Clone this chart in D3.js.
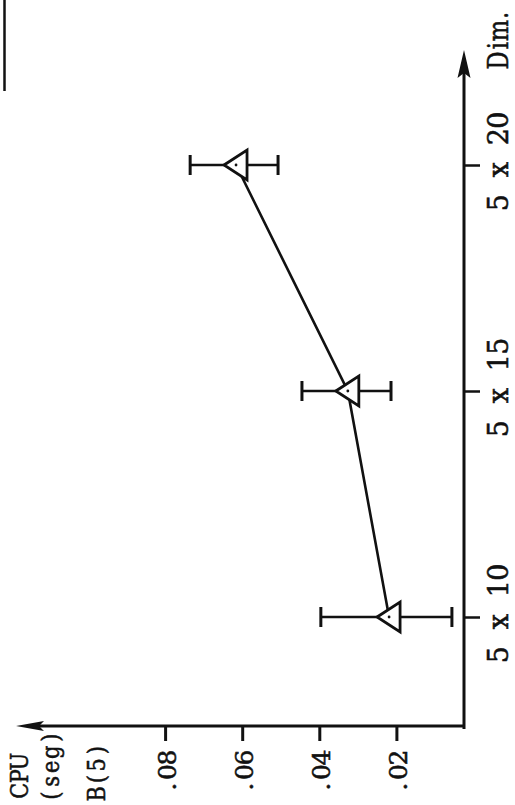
<!DOCTYPE html>
<html>
<head>
<meta charset="utf-8">
<script src="https://cdn.jsdelivr.net/npm/d3@7"></script>
<style>
  html, body { margin: 0; padding: 0; background: #fff; }
  svg { display: block; }
  text { font-family: "DejaVu Serif", "Liberation Serif", serif; fill: #111; stroke: #111; stroke-width: 0.55px; }
</style>
</head>
<body>
<svg id="chart" width="515" height="805"></svg>
<script>
// Problem sizes (5 x n) along the dimension axis
const dims = [10, 15, 20];
const dimLabels = ["5 x 10", "5 x 15", "5 x 20"];
// Mean CPU time for each size, with the low / high end of its spread
const cpuMean = [0.0219, 0.0326, 0.0616];
const cpuLow = [0.0056, 0.0214, 0.0507];
const cpuHigh = [0.0396, 0.0445, 0.0735];
// CPU axis ticks
const cpuTicks = [0.02, 0.04, 0.06, 0.08];
const cpuTickLabels = [".02", ".04", ".06", ".08"];
// Axis titles
const cpuTitle = ["CPU", "(seg)", "B(5)"];
const dimTitle = "Dim.";

const points = dims.map((d, i) => ({ dim: d, mean: cpuMean[i], low: cpuLow[i], high: cpuHigh[i] }));

const svg = d3.select("#chart");
const ink = "#111";

// Lay a string out on a fixed character grid, typewriter style.
// anchor: where local x = 0 sits relative to the string (start / middle / end).
function typeset(textSel, str, size, cell, anchor) {
  const n = str.length;
  const first = anchor === "middle" ? -n * cell / 2 : anchor === "end" ? -n * cell : 0;
  textSel.text(null)
    .attr("font-size", size)
    .attr("text-anchor", "middle")
    .attr("dy", null).attr("x", null).attr("y", null);
  str.split("").forEach((ch, i) => {
    if (ch === " ") return;
    textSel.append("tspan")
      .attr("x", first + (i + 0.5) * cell)
      .attr("y", 0.36 * size)
      .text(ch);
  });
}

// Narrowed glyphs for the titles (typewriter faces are condensed)
const squeeze = 0.84;

// The plot is set sideways: CPU time grows to the left, dimension grows upward.
const originX = 464, originY = 726;
const x = d3.scaleLinear().domain([0, 0.1]).range([473.5, 88]);
const y = d3.scaleLinear().domain([10, 20]).range([617, 165]);

// Frame line left over at the top-left edge
svg.append("line")
  .attr("x1", 4.5).attr("x2", 4.5).attr("y1", 0).attr("y2", 91)
  .attr("stroke", ink).attr("stroke-width", 2.5);

// Axis lines with arrowheads
svg.append("line")
  .attr("x1", originX).attr("x2", originX).attr("y1", originY + 3).attr("y2", 70)
  .attr("stroke", ink).attr("stroke-width", 3);
svg.append("path")
  .attr("d", `M${originX},50 L${originX + 6.5},78 L${originX},73 L${originX - 6.5},78 Z`)
  .attr("fill", ink);

svg.append("line")
  .attr("x1", originX + 1).attr("x2", 36).attr("y1", originY).attr("y2", originY)
  .attr("stroke", ink).attr("stroke-width", 3);
svg.append("path")
  .attr("d", `M16,${originY} L44,${originY - 5} L39,${originY} L44,${originY + 5} Z`)
  .attr("fill", ink);

// Dimension axis (vertical, labels read bottom to top)
const dimAxis = svg.append("g")
  .attr("transform", `translate(${originX},0)`)
  .call(d3.axisRight(y).tickValues(dims).tickFormat((d, i) => dimLabels[i])
    .tickSize(16).tickSizeOuter(0));
dimAxis.attr("font-family", null).attr("font-size", null);
dimAxis.select(".domain").remove();
dimAxis.selectAll(".tick line").attr("stroke", ink).attr("stroke-width", 2.5);
dimAxis.selectAll(".tick text")
  .attr("fill", ink)
  .attr("transform", "translate(34,-4) rotate(-90)")
  .each(function (d, i) { typeset(d3.select(this), dimLabels[i], 27, 16.5, "middle"); });

typeset(svg.append("text").attr("transform", `translate(498,38) rotate(-90) scale(${squeeze},1)`),
  dimTitle, 27, 15 / squeeze, "middle");

// CPU axis (horizontal, labels read bottom to top)
const cpuAxis = svg.append("g")
  .attr("transform", `translate(0,${originY})`)
  .call(d3.axisBottom(x).tickValues(cpuTicks).tickFormat((d, i) => cpuTickLabels[i])
    .tickSize(15).tickSizeOuter(0));
cpuAxis.attr("font-family", null).attr("font-size", null);
cpuAxis.selectAll(".tick text")
  .attr("fill", ink)
  .attr("transform", "translate(1,46) rotate(-90)")
  .each(function (d, i) { typeset(d3.select(this), cpuTickLabels[i], 25, 14.5, "middle"); });
cpuAxis.select(".domain").remove();
cpuAxis.selectAll(".tick line").attr("stroke", ink).attr("stroke-width", 3);

const titlePos = [[19, 798], [50, 803], [96, 801]];
svg.append("g").selectAll("text")
  .data(cpuTitle)
  .join("text")
  .attr("transform", (d, i) => `translate(${titlePos[i][0]},${titlePos[i][1]}) rotate(-90) scale(${squeeze},1)`)
  .each(function (d) { typeset(d3.select(this), d, 25, 14.5 / squeeze, "start"); });

// Connecting line through the means
svg.append("path")
  .datum(points)
  .attr("d", d3.line().x(d => x(d.mean)).y(d => y(d.dim)))
  .attr("fill", "none").attr("stroke", ink).attr("stroke-width", 2.6);

// Spread bars with end caps
const bars = svg.append("g").selectAll("g").data(points).join("g");
bars.append("line")
  .attr("x1", d => x(d.low)).attr("x2", d => x(d.high))
  .attr("y1", d => y(d.dim)).attr("y2", d => y(d.dim))
  .attr("stroke", ink).attr("stroke-width", 2.6);
bars.append("line")
  .attr("x1", d => x(d.low)).attr("x2", d => x(d.low))
  .attr("y1", d => y(d.dim) - 10).attr("y2", d => y(d.dim) + 10)
  .attr("stroke", ink).attr("stroke-width", 3);
bars.append("line")
  .attr("x1", d => x(d.high)).attr("x2", d => x(d.high))
  .attr("y1", d => y(d.dim) - 10).attr("y2", d => y(d.dim) + 10)
  .attr("stroke", ink).attr("stroke-width", 3);

// Triangle markers (pointing toward larger CPU time) with a centre dot
const marks = svg.append("g").selectAll("g").data(points).join("g")
  .attr("transform", d => `translate(${x(d.mean)},${y(d.dim)})`);
marks.append("path")
  .attr("d", "M-12,0 L11,-15 L11,15 Z")
  .attr("fill", "#fff").attr("stroke", ink).attr("stroke-width", 2.8)
  .attr("stroke-linejoin", "miter");
marks.append("circle")
  .attr("r", 1.4).attr("fill", ink);
</script>
</body>
</html>
